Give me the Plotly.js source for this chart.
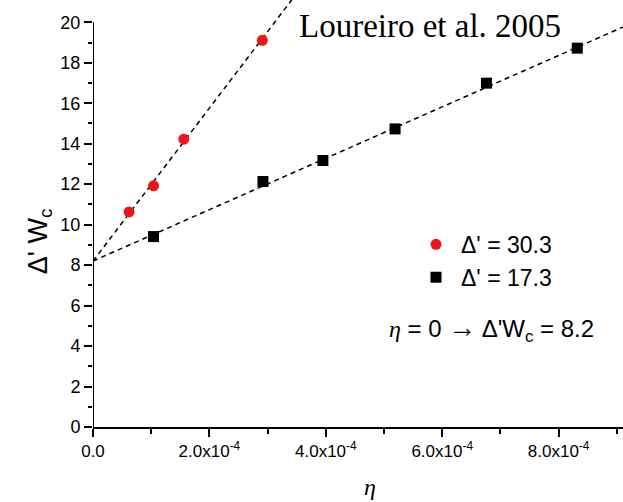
<!DOCTYPE html>
<html>
<head>
<meta charset="utf-8">
<script src="https://cdn.plot.ly/plotly-3.0.1.min.js"></script>
<style>html,body{margin:0;padding:0;background:#fff;}#chart{width:623px;height:502px;}</style>
</head>
<body>
<div id="chart"></div>
<script>
// Data
const etaRed = [0.62e-4, 1.04e-4, 1.56e-4, 2.91e-4];
const wRed   = [10.63, 11.92, 14.22, 19.11];
const etaBlack = [1.04e-4, 2.92e-4, 3.95e-4, 5.19e-4, 6.76e-4, 8.32e-4];
const wBlack   = [9.41, 12.13, 13.17, 14.73, 16.99, 18.72];
const seriesNames = ["Δ' = 30.3", "Δ' = 17.3"];
// Linear fits (intercept at eta = 0 and slope per unit eta)
const fitIntercept = 8.2;
const fitSlopeRed = 3.78e4;
const fitSlopeBlack = 1.27e4;
const fitXRed = [0, 3.45e-4];
const fitXBlack = [0, 9.2e-4];
const xTickVals = [0, 2e-4, 4e-4, 6e-4, 8e-4];
const xTickText = ["0.0", "2.0x10<sup>-4</sup>", "4.0x10<sup>-4</sup>", "6.0x10<sup>-4</sup>", "8.0x10<sup>-4</sup>"];
const yTickVals = [0, 2, 4, 6, 8, 10, 12, 14, 16, 18, 20];
const yMinorVals = [1, 3, 5, 7, 9, 11, 13, 15, 17, 19];

const dashLine = {color: '#000', width: 1.5, dash: '5px,4px'};
const traces = [
  {x: fitXRed, y: fitXRed.map(v => fitIntercept + fitSlopeRed * v), mode: 'lines', line: dashLine, showlegend: false, hoverinfo: 'skip'},
  {x: fitXBlack, y: fitXBlack.map(v => fitIntercept + fitSlopeBlack * v), mode: 'lines', line: dashLine, showlegend: false, hoverinfo: 'skip'},
  {x: etaRed, y: wRed, mode: 'markers', name: seriesNames[0], marker: {symbol: 'circle', size: 11, color: '#f0141c'}},
  {x: etaBlack, y: wBlack, mode: 'markers', name: seriesNames[1], marker: {symbol: 'square', size: 11, color: '#000'}}
];

const layout = {
  width: 623, height: 502,
  margin: {l: 93, r: 0, t: 0, b: 75},
  paper_bgcolor: '#fff', plot_bgcolor: '#fff',
  font: {family: 'Liberation Sans, Arial, sans-serif', size: 17, color: '#000'},
  xaxis: {
    range: [0, 9.106e-4], showgrid: false, zeroline: false,
    showline: true, linecolor: '#000', linewidth: 2,
    tickmode: 'array', tickvals: xTickVals, ticktext: xTickText,
    ticks: 'outside', ticklen: 8, tickwidth: 2, tickcolor: '#000',
    minor: {tickmode: 'linear', tick0: 0, dtick: 1e-4, ticks: 'outside', ticklen: 5, tickwidth: 2, tickcolor: '#000'},
    tickfont: {size: 17}
  },
  yaxis: {
    range: [0, 21.1], showgrid: false, zeroline: false, showline: false,
    tickmode: 'array', tickvals: yTickVals,
    ticks: 'outside', ticklen: 8, tickwidth: 2, tickcolor: '#000',
    minor: {tickmode: 'array', tickvals: yMinorVals, ticks: 'outside', ticklen: 4, tickwidth: 2, tickcolor: '#000'},
    tickfont: {size: 18}
  },
  shapes: [
    {type: 'line', xref: 'x', yref: 'y', x0: 0, x1: 0, y0: 0, y1: 20, line: {color: '#000', width: 2}, layer: 'above'}
  ],
  legend: {
    x: 0.6, y: 0.478, xanchor: 'left', yanchor: 'top',
    bgcolor: 'rgba(0,0,0,0)', borderwidth: 0,
    font: {size: 23, family: 'Liberation Sans, Arial, sans-serif'},
    itemwidth: 40,
    traceorder: 'normal'
  },
  annotations: [
    {text: 'Loureiro et al. 2005', xref: 'paper', yref: 'paper', x: 0.384, y: 0.94, xanchor: 'left', yanchor: 'middle',
     showarrow: false, font: {family: 'Liberation Serif, Times New Roman, serif', size: 33}},
    {text: "<i style='font-family:Liberation Serif'>η</i> = 0 <span style='font-size:28px'>→</span> Δ'W<sub>c</sub> = 8.2", xref: 'paper', yref: 'paper', x: 0.555, y: 0.23, xanchor: 'left', yanchor: 'middle',
     showarrow: false, font: {size: 24}},
    {text: "Δ' W<sub>c</sub>", xref: 'paper', yref: 'paper', x: -0.1, y: 0.435, xanchor: 'center', yanchor: 'middle', textangle: -90,
     showarrow: false, font: {size: 27}},
    {text: "<i>η</i>", xref: 'paper', yref: 'paper', x: 0.522, y: -0.14, xanchor: 'center', yanchor: 'middle',
     showarrow: false, font: {family: 'Liberation Serif, Times New Roman, serif', size: 24}}
  ]
};

Plotly.newPlot('chart', traces, layout, {displayModeBar: false, staticPlot: true});
</script>
</body>
</html>
